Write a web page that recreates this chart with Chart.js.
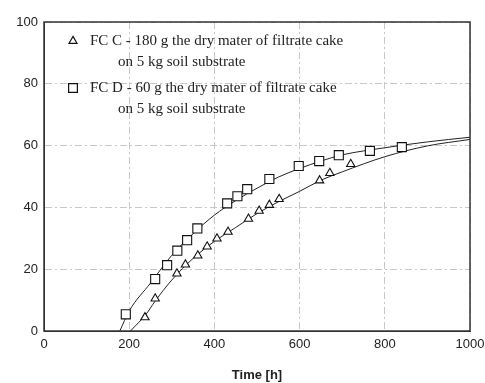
<!DOCTYPE html>
<html>
<head>
<meta charset="utf-8">
<script src="https://cdn.jsdelivr.net/npm/chart.js@4/dist/chart.umd.min.js"></script>
<style>
  html, body { margin: 0; padding: 0; background: #fff; }
  #wrap { width: 485px; height: 383px; }
</style>
</head>
<body>
<div id="wrap"><canvas id="myChart" width="485" height="383"></canvas></div>
<script>
// measured points, FC C (triangles) and FC D (squares)
var timeC = [237, 261, 312, 332, 361, 383, 406, 432, 480, 505, 529, 552, 647, 671, 720]
var valC  = [4.4, 10.5, 18.6, 21.5, 24.4, 27.3, 29.9, 32.1, 36.3, 38.9, 40.8, 42.7, 48.7, 51.1, 54]
var timeD = [192, 261, 289, 313, 336, 360, 430, 454, 477, 529, 598, 646, 692, 765, 840]
var valD  = [5.4, 16.8, 21.3, 26, 29.4, 33.2, 41.3, 43.6, 45.9, 49.2, 53.4, 55, 56.9, 58.3, 59.5]

// fitted curves
var fitTimeC = [203, 240, 260, 300, 350, 400, 450, 500, 550, 600, 650, 700, 800, 900, 1000]
var fitValC  = [0, 5.5, 9.5, 16.5, 23.5, 29, 33.5, 38, 41.8, 45.2, 48.8, 51.5, 56.4, 59.9, 62]
var fitTimeD = [178, 200, 250, 300, 350, 400, 450, 500, 550, 600, 650, 700, 800, 900, 1000]
var fitValD  = [0, 6.5, 15.5, 24.5, 31.5, 37.5, 42.2, 46.2, 49.8, 52.6, 55, 57, 59.3, 61.2, 62.7]

var xTicks = [0, 200, 400, 600, 800, 1000]
var yTicks = [0, 20, 40, 60, 80, 100]

var legendLines = [
    ['FC C - 180 g the dry mater of filtrate cake', 'on 5 kg soil substrate'],
    ['FC D - 60 g the dry mater of filtrate cake', 'on 5 kg soil substrate']
]

function pairs(xs, ys) {
    return xs.map(function (x, i) { return {x: x, y: ys[i]} })
}

Chart.defaults.font.family = '"Liberation Sans", Arial, sans-serif'
Chart.defaults.font.size = 13
Chart.defaults.color = '#222'

// frame + text legend inside the plot
var framePlugin = {
    id: 'frame',
    afterDraw: function (chart) {
        var ctx = chart.ctx, a = chart.chartArea
        ctx.save()
        ctx.strokeStyle = '#333'
        ctx.lineWidth = 1.5
        ctx.strokeRect(a.left, a.top, a.right - a.left, a.bottom - a.top)

        ctx.font = '15px "Liberation Serif", "Times New Roman", serif'
        ctx.textBaseline = 'middle'
        var styles = ['triangle', 'rect']
        var radii = [4.6, 6.2]
        var rows = [41, 88]
        for (var i = 0; i < legendLines.length; i++) {
            ctx.strokeStyle = '#111'
            ctx.fillStyle = '#fff'
            ctx.lineWidth = 1.2
            Chart.helpers.drawPoint(ctx, {pointStyle: styles[i], radius: radii[i], rotation: 0, borderWidth: 1.2}, 73, rows[i])
            ctx.fillStyle = '#222'
            ctx.fillText(legendLines[i][0], 90, rows[i])
            ctx.fillText(legendLines[i][1], 118, rows[i] + 21)
        }
        ctx.restore()
    }
}

var gridStyle = {
    color: '#c8c8c8',
    lineWidth: 1,
    drawTicks: false
}
var dashBorder = { display: true, color: '#333', dash: [7, 3, 2, 3] }

new Chart(document.getElementById('myChart'), {
    type: 'scatter',
    data: {
        datasets: [
        {
            label: 'FC C',
            data: pairs(timeC, valC),
            pointStyle: 'triangle',
            pointRadius: 4.8,
            backgroundColor: '#fff',
            borderColor: '#111',
            borderWidth: 1.1
        },
        {
            label: 'FC D',
            data: pairs(timeD, valD),
            pointStyle: 'rect',
            pointRadius: 6.4,
            backgroundColor: '#fff',
            borderColor: '#111',
            borderWidth: 1.1
        },
        {
            label: 'fit C',
            data: pairs(fitTimeC, fitValC),
            showLine: true,
            pointRadius: 0,
            borderColor: '#222',
            borderWidth: 1,
            cubicInterpolationMode: 'monotone',
            order: 5
        },
        {
            label: 'fit D',
            data: pairs(fitTimeD, fitValD),
            showLine: true,
            pointRadius: 0,
            borderColor: '#222',
            borderWidth: 1,
            cubicInterpolationMode: 'monotone',
            order: 5
        }
        ]
    },
    options: {
        responsive: false,
        animation: false,
        layout: { padding: { left: 0, right: 15, top: 22, bottom: 0 } },
        plugins: {
            legend: { display: false },
            tooltip: { enabled: false }
        },
        scales: {
            x: {
                type: 'linear',
                min: 0,
                max: 1000,
                afterBuildTicks: function (s) { s.ticks = xTicks.map(function (v) { return {value: v} }) },
                afterFit: function (s) { s.height = 52; s.paddingLeft = 0; s.paddingRight = 0 },
                ticks: { padding: 6, maxRotation: 0, callback: function (v) { return String(v) } },
                grid: gridStyle,
                border: dashBorder,
                title: {
                    display: true,
                    text: 'Time [h]',
                    font: { size: 13, weight: 'bold' },
                    padding: { top: 0, bottom: 0 }
                }
            },
            y: {
                type: 'linear',
                min: 0,
                max: 100,
                afterBuildTicks: function (s) { s.ticks = yTicks.map(function (v) { return {value: v} }) },
                afterFit: function (s) { s.width = 44; s.paddingTop = 0; s.paddingBottom = 0 },
                ticks: { padding: 6, callback: function (v) { return String(v) } },
                grid: gridStyle,
                border: dashBorder
            }
        }
    },
    plugins: [framePlugin]
})
</script>
</body>
</html>
